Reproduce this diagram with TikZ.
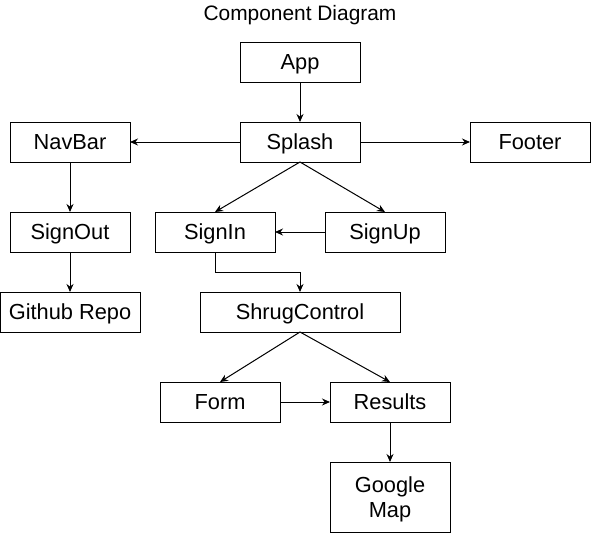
\documentclass[tikz,border=0pt]{standalone}
\usepackage{fontspec}
\setmainfont{Liberation Sans}
\usetikzlibrary{positioning,arrows.meta}

\begin{document}
\begin{tikzpicture}[x=1pt, y=1pt,
        comp/.style={draw, line width=1pt, minimum width=120pt, minimum height=40pt,
            inner sep=0pt, outer sep=0pt, align=center, text height=15.7pt, text depth=0pt,
            font=\fontsize{21.8}{25}\selectfont},
        link/.style={-{Stealth[length=8pt,width=7pt]}, line width=1pt}]
        \useasboundingbox (0,0) rectangle (591,-533);
        \node [comp] (app) at (300,-62) {App};
        \node [above=17pt of app, inner sep=0pt, font=\fontsize{20.9}{25}\selectfont] (title) {Component Diagram};
        \node [comp, below=40pt of app] (splash) {Splash};
        \node [comp, left=110pt of splash] (navbar) {NavBar};
        \node [comp, right=110pt of splash] (footer) {Footer};
        \node [comp, below=50pt of navbar] (signout) {SignOut};
        \node [comp, below=40pt of signout, minimum width=140pt] (repo) {Github Repo};
        \node [comp, right=25pt of signout] (signin) {SignIn};
        \node [comp, right=50pt of signin] (signup) {SignUp};
        \node [comp, right=60pt of repo, minimum width=200pt] (shrug) {ShrugControl};
        \node [comp, below=50pt of shrug, xshift=-80pt] (form) {Form};
        \node [comp, right=50pt of form] (results) {Results};
        \node [comp, below=40pt of results, minimum height=70pt, text height=40.7pt] (gmap) {Google\\Map};
        \draw [link] (app) -- (splash);
        \draw [link] (splash) -- (navbar);
        \draw [link] (splash) -- (footer);
        \draw [link] (splash.south) -- (signin.north);
        \draw [link] (splash.south) -- (signup.north);
        \draw [link] (signup) -- (signin);
        \draw [link] (navbar) -- (signout);
        \draw [link] (signout) -- (repo);
        \draw [link] (signin.south) -- ++(0,-20) -| (shrug.north);
        \draw [link] (shrug.south) -- (form.north);
        \draw [link] (shrug.south) -- (results.north);
        \draw [link] (form) -- (results);
        \draw [link] (results) -- (gmap);
\end{tikzpicture}
\end{document}
